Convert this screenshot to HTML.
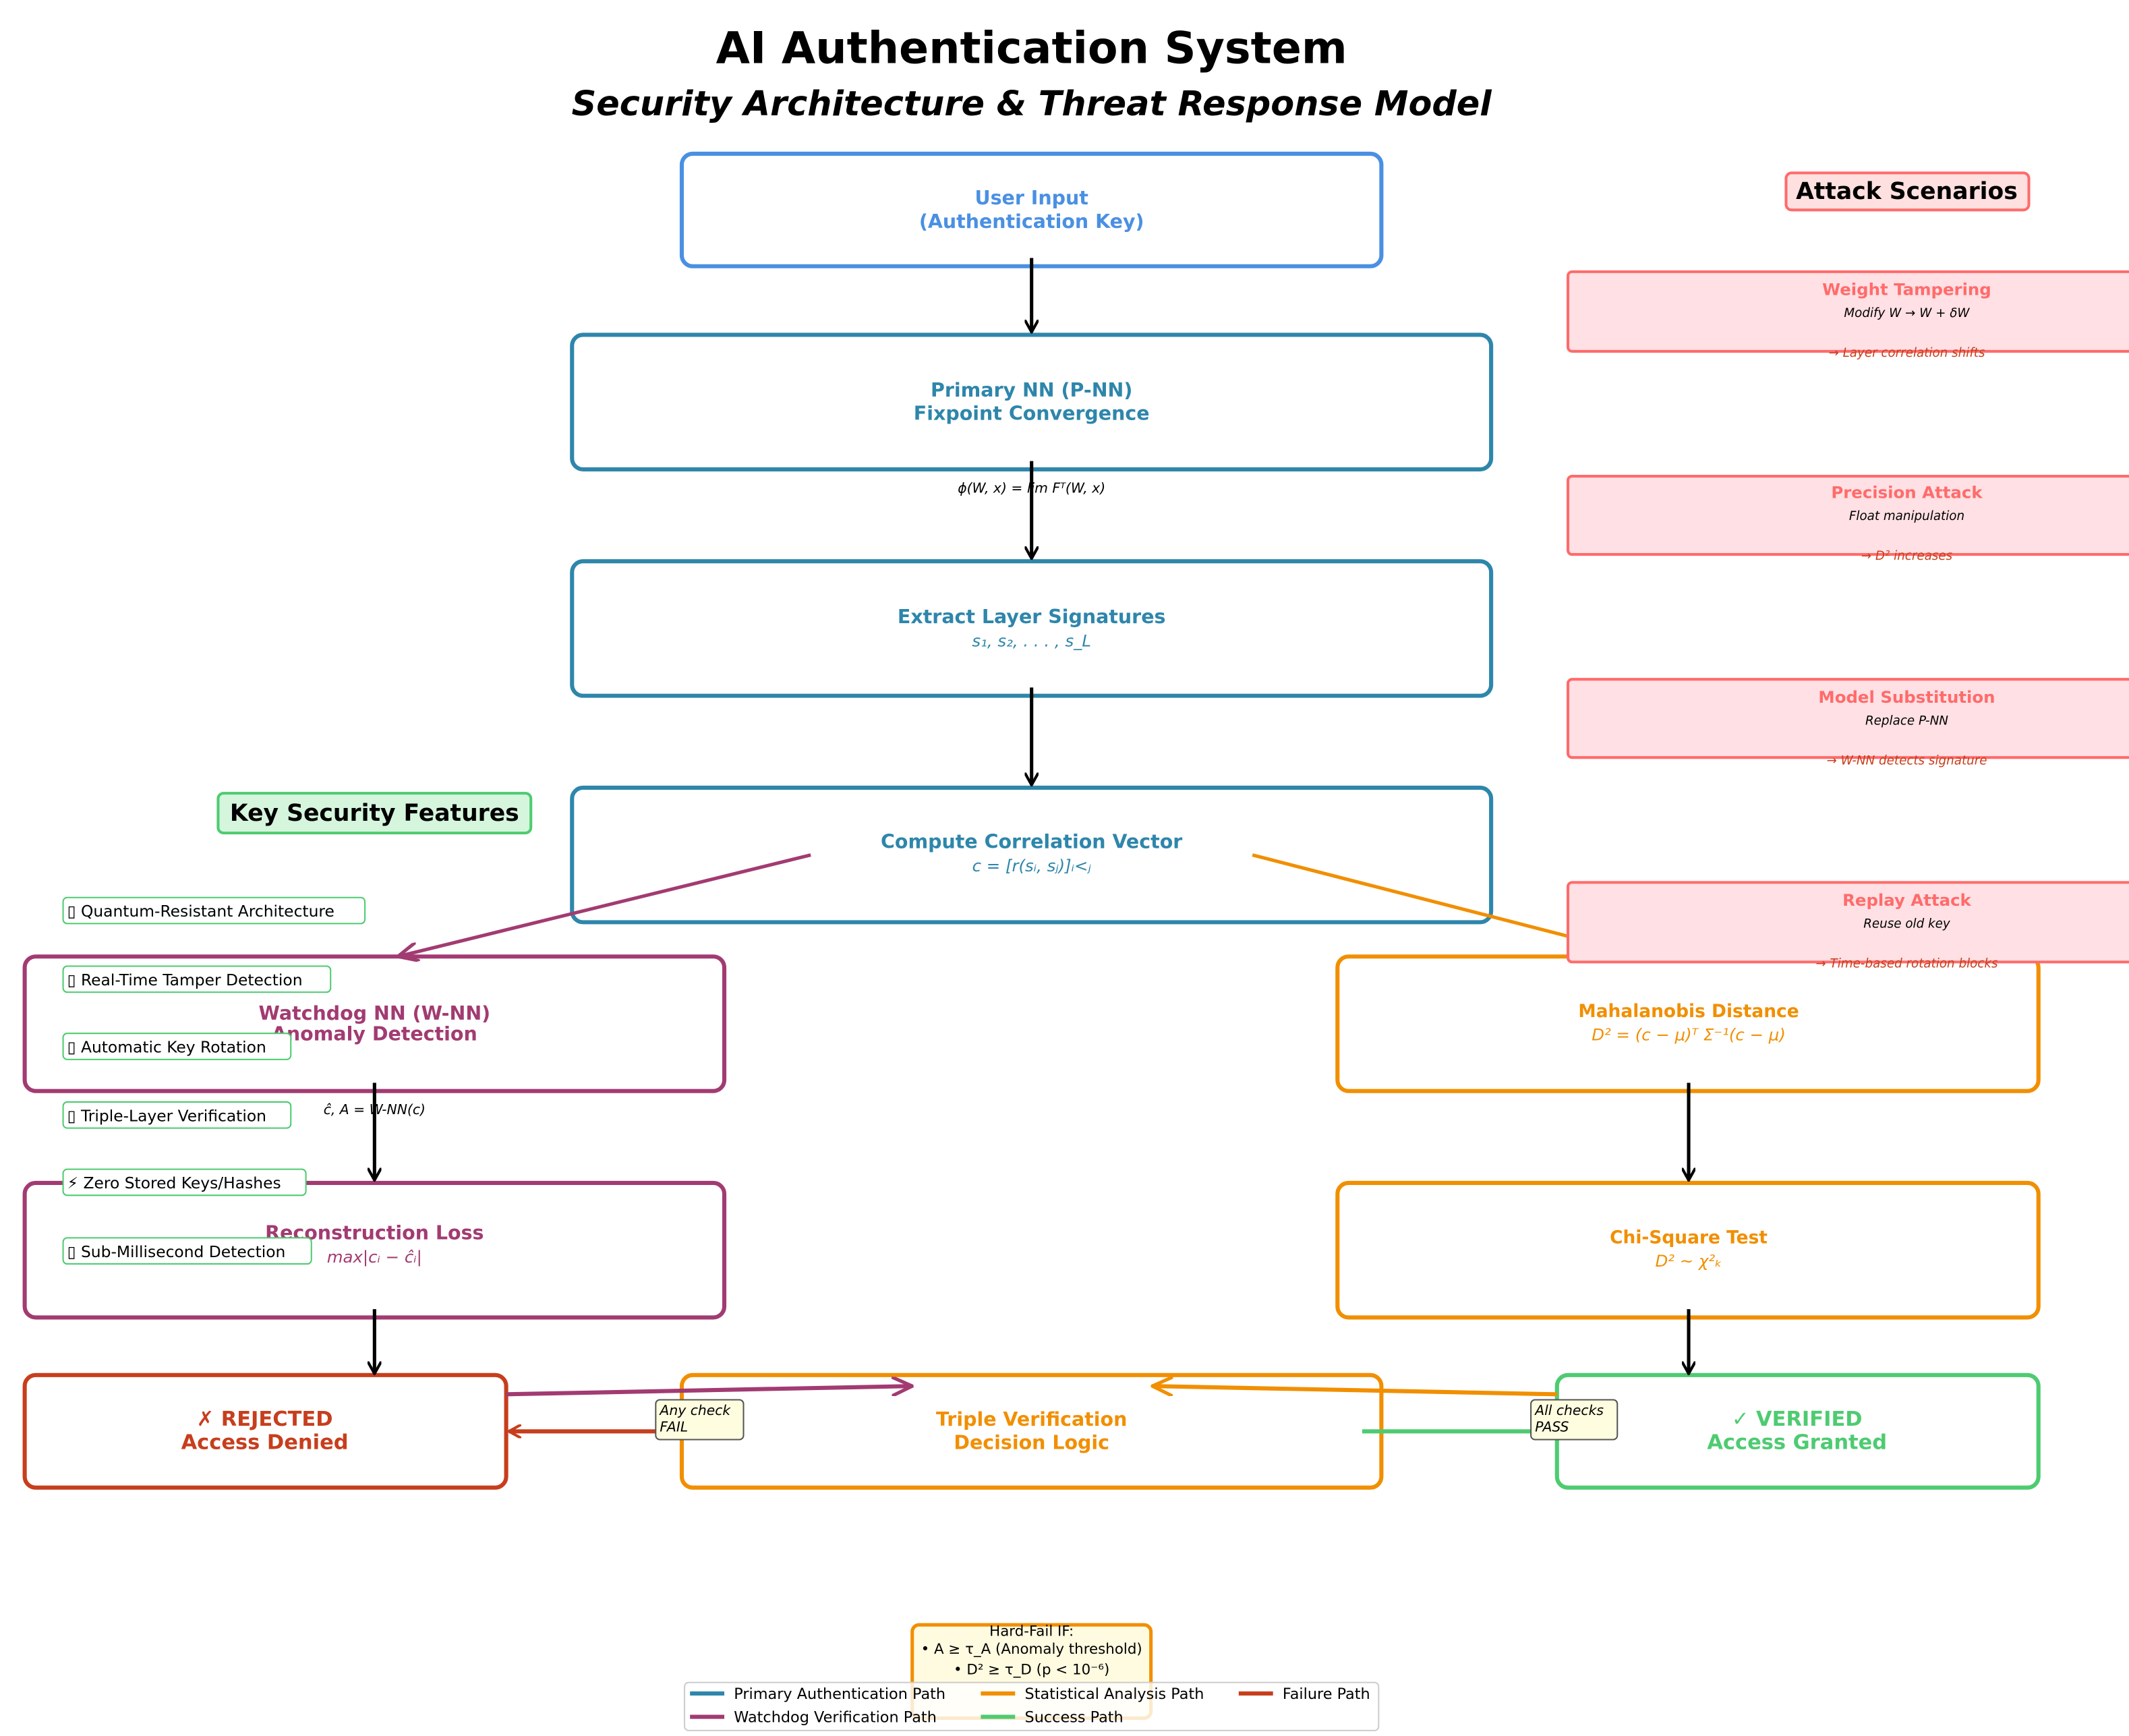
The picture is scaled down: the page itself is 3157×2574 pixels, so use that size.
<!DOCTYPE html>
<html><head><meta charset="utf-8"><style>
html,body{margin:0;padding:0;background:#fff;}
svg{display:block;}
text{font-family:"DejaVu Sans","Liberation Sans",sans-serif;}
</style></head><body>
<svg width="3157" height="2574" viewBox="0 0 1552 1265" preserveAspectRatio="none" xmlns="http://www.w3.org/2000/svg">
<defs>
<marker id="ak" markerWidth="10" markerHeight="10" refX="9" refY="5" orient="auto" markerUnits="userSpaceOnUse"><path d="M0,0 L9,5 L0,10" fill="none" stroke="#000" stroke-width="2"/></marker>
<marker id="ap" markerWidth="16" markerHeight="14" refX="15" refY="7" orient="auto" markerUnits="userSpaceOnUse"><path d="M0,0 L15,7 L0,14" fill="none" stroke="#a23b72" stroke-width="2.5"/></marker>
<marker id="ao" markerWidth="16" markerHeight="14" refX="15" refY="7" orient="auto" markerUnits="userSpaceOnUse"><path d="M0,0 L15,7 L0,14" fill="none" stroke="#f18f01" stroke-width="2.5"/></marker>
<marker id="ar" markerWidth="10" markerHeight="10" refX="9" refY="5" orient="auto" markerUnits="userSpaceOnUse"><path d="M0,0 L9,5 L0,10" fill="none" stroke="#c73e1d" stroke-width="2"/></marker>
<marker id="ag" markerWidth="10" markerHeight="10" refX="9" refY="5" orient="auto" markerUnits="userSpaceOnUse"><path d="M0,0 L9,5 L0,10" fill="none" stroke="#4ecb71" stroke-width="2"/></marker>
</defs>
<text x="752" y="46" text-anchor="middle" font-size="32" font-weight="bold">AI Authentication System</text>
<text x="752" y="84" text-anchor="middle" font-size="25" font-weight="bold" font-style="italic">Security Architecture &amp; Threat Response Model</text>

<g fill="#fff" stroke-width="3">
<rect x="497" y="112" width="510" height="82" rx="8" stroke="#4a90e2"/>
<rect x="417" y="244" width="670" height="98" rx="8" stroke="#2e86ab"/>
<rect x="417" y="409" width="670" height="98" rx="8" stroke="#2e86ab"/>
<rect x="417" y="574" width="670" height="98" rx="8" stroke="#2e86ab"/>
<rect x="18" y="697" width="510" height="98" rx="8" stroke="#a23b72"/>
<rect x="18" y="862" width="510" height="98" rx="8" stroke="#a23b72"/>
<rect x="975" y="697" width="511" height="98" rx="8" stroke="#f18f01"/>
<rect x="975" y="862" width="511" height="98" rx="8" stroke="#f18f01"/>
<rect x="18" y="1002" width="351" height="82" rx="8" stroke="#c73e1d"/>
<rect x="497" y="1002" width="510" height="82" rx="8" stroke="#f18f01"/>
<rect x="1135" y="1002" width="351" height="82" rx="8" stroke="#4ecb71"/>
</g>
<g font-weight="bold" font-size="14" text-anchor="middle">
<text x="752" y="149" fill="#4a90e2">User Input</text><text x="752" y="166" fill="#4a90e2">(Authentication Key)</text>
<text x="752" y="289" fill="#2e86ab">Primary NN (P-NN)</text><text x="752" y="306" fill="#2e86ab">Fixpoint Convergence</text>
<text x="752" y="454" fill="#2e86ab">Extract Layer Signatures</text>
<text x="752" y="618" fill="#2e86ab">Compute Correlation Vector</text>
<text x="273" y="743" fill="#a23b72">Watchdog NN (W-NN)</text><text x="273" y="758" fill="#a23b72">Anomaly Detection</text>
<text x="273" y="903" fill="#a23b72">Reconstruction Loss</text>
<text x="1231" y="741" fill="#f18f01" font-size="13">Mahalanobis Distance</text>
<text x="1231" y="906" fill="#f18f01" font-size="13">Chi-Square Test</text>
<text x="193" y="1039" fill="#c73e1d" font-size="15">✗ REJECTED</text><text x="193" y="1056" fill="#c73e1d" font-size="15">Access Denied</text>
<text x="752" y="1039" fill="#f18f01">Triple Verification</text><text x="752" y="1056" fill="#f18f01">Decision Logic</text>
<text x="1310" y="1039" fill="#4ecb71" font-size="15">✓ VERIFIED</text><text x="1310" y="1056" fill="#4ecb71" font-size="15">Access Granted</text>
</g>
<g font-style="italic" font-size="12" text-anchor="middle">
<text x="752" y="471" fill="#2e86ab">s₁, s₂, . . . , s_L</text>
<text x="752" y="635" fill="#2e86ab">c = [r(sᵢ, sⱼ)]ᵢ&lt;ⱼ</text>
<text x="1231" y="758" fill="#f18f01">D² = (c − μ)ᵀ Σ⁻¹(c − μ)</text>
<text x="1231" y="923" fill="#f18f01">D² ~ χ²ₖ</text>
<text x="273" y="920" fill="#a23b72">max|cᵢ − ĉᵢ|</text>
<text x="752" y="359" font-size="10" fill="#000">ϕ(W, x) = lim Fᵀ(W, x)</text>
<text x="273" y="812" font-size="10" fill="#000">ĉ, A = W-NN(c)</text>
</g>

<g stroke="#000" stroke-width="2.5">
<line x1="752" y1="188" x2="752" y2="242" marker-end="url(#ak)"/>
<line x1="752" y1="336" x2="752" y2="407" marker-end="url(#ak)"/>
<line x1="752" y1="501" x2="752" y2="572" marker-end="url(#ak)"/>
<line x1="273" y1="789" x2="273" y2="860" marker-end="url(#ak)"/>
<line x1="1231" y1="789" x2="1231" y2="860" marker-end="url(#ak)"/>
<line x1="273" y1="954" x2="273" y2="1001" marker-end="url(#ak)"/>
<line x1="1231" y1="954" x2="1231" y2="1001" marker-end="url(#ak)"/>
</g>
<line x1="591" y1="623" x2="290" y2="697" stroke="#a23b72" stroke-width="2.5" marker-end="url(#ap)"/>
<line x1="913" y1="623" x2="1150" y2="684" stroke="#f18f01" stroke-width="2.5"/>
<line x1="369" y1="1016" x2="665" y2="1010" stroke="#a23b72" stroke-width="3" marker-end="url(#ap)"/>
<line x1="1135" y1="1016" x2="840" y2="1010" stroke="#f18f01" stroke-width="3" marker-end="url(#ao)"/>
<line x1="510" y1="1043" x2="371" y2="1043" stroke="#c73e1d" stroke-width="3" marker-end="url(#ar)"/>
<line x1="993" y1="1043" x2="1135" y2="1043" stroke="#4ecb71" stroke-width="3" marker-end="url(#ag)"/>
<g font-size="10" font-style="italic">
<rect x="478" y="1020" width="64" height="29" rx="3" fill="#fffde0" stroke="#555"/>
<text x="481" y="1031">Any check</text><text x="481" y="1043">FAIL</text>
<rect x="1116" y="1020" width="63" height="29" rx="3" fill="#fffde0" stroke="#555"/>
<text x="1119" y="1031">All checks</text><text x="1119" y="1043">PASS</text>
</g>

<rect x="1302" y="126" width="177" height="27" rx="4" fill="#ffe0e0" stroke="#ff6b6b" stroke-width="2"/>
<text x="1390" y="145" text-anchor="middle" font-size="17" font-weight="bold">Attack Scenarios</text>
<g fill="#ffe0e4" stroke="#ff6b6b" stroke-width="2">
<rect x="1143" y="198" width="430" height="58" rx="3"/>
<rect x="1143" y="347" width="430" height="57" rx="3"/>
<rect x="1143" y="495" width="430" height="57" rx="3"/>
<rect x="1143" y="643" width="430" height="58" rx="3"/>
</g>
<g text-anchor="middle">
<g font-size="12" font-weight="bold" fill="#ff6b6b">
<text x="1390" y="215">Weight Tampering</text>
<text x="1390" y="363">Precision Attack</text>
<text x="1390" y="512">Model Substitution</text>
<text x="1390" y="660">Replay Attack</text>
</g>
<g font-size="9" font-style="italic" fill="#000">
<text x="1390" y="231">Modify W → W + δW</text>
<text x="1390" y="260" fill="#c73e1d">→ Layer correlation shifts</text>
<text x="1390" y="379">Float manipulation</text>
<text x="1390" y="408" fill="#c73e1d">→ D² increases</text>
<text x="1390" y="528">Replace P-NN</text>
<text x="1390" y="557" fill="#c73e1d">→ W-NN detects signature</text>
<text x="1390" y="676">Reuse old key</text>
<text x="1390" y="705" fill="#c73e1d">→ Time-based rotation blocks</text>
</g>
</g>

<rect x="159" y="578" width="228" height="29" rx="4" fill="#d5f5dd" stroke="#4ecb71" stroke-width="2"/>
<text x="273" y="598" text-anchor="middle" font-size="17" font-weight="bold">Key Security Features</text>
<g fill="#fff" stroke="#4ecb71" stroke-width="1">
<rect x="46" y="654" width="220" height="19" rx="3"/>
<rect x="46" y="704" width="195" height="19" rx="3"/>
<rect x="46" y="753" width="166" height="19" rx="3"/>
<rect x="46" y="803" width="166" height="19" rx="3"/>
<rect x="46" y="852" width="177" height="19" rx="3"/>
<rect x="46" y="902" width="181" height="19" rx="3"/>
</g>
<g font-size="11.5" fill="#000">
<text x="49" y="668">▯ Quantum-Resistant Architecture</text>
<text x="49" y="718">▯ Real-Time Tamper Detection</text>
<text x="49" y="767">▯ Automatic Key Rotation</text>
<text x="49" y="817">▯ Triple-Layer Verification</text>
<text x="49" y="866">⚡ Zero Stored Keys/Hashes</text>
<text x="49" y="916">▯ Sub-Millisecond Detection</text>
</g>

<rect x="665" y="1184" width="174" height="68" rx="5" fill="#fffbe0" stroke="#f18f01" stroke-width="2.5"/>
<g font-size="10.5" text-anchor="middle">
<text x="752" y="1192">Hard-Fail IF:</text>
<text x="752" y="1205">• A ≥ τ_A (Anomaly threshold)</text>
<text x="752" y="1220">• D² ≥ τ_D (p &lt; 10⁻⁶)</text>
</g>
<rect x="499" y="1226" width="506" height="35" rx="3" fill="#fff" fill-opacity="0.8" stroke="#ccc"/>
<g stroke-width="3">
<line x1="503" y1="1234" x2="528" y2="1234" stroke="#2e86ab"/>
<line x1="503" y1="1251" x2="528" y2="1251" stroke="#a23b72"/>
<line x1="715" y1="1234" x2="740" y2="1234" stroke="#f18f01"/>
<line x1="715" y1="1251" x2="740" y2="1251" stroke="#4ecb71"/>
<line x1="903" y1="1234" x2="928" y2="1234" stroke="#c73e1d"/>
</g>
<g font-size="11">
<text x="535" y="1238">Primary Authentication Path</text>
<text x="535" y="1255">Watchdog Verification Path</text>
<text x="747" y="1238">Statistical Analysis Path</text>
<text x="747" y="1255">Success Path</text>
<text x="935" y="1238">Failure Path</text>
</g>
</svg>
</body></html>
